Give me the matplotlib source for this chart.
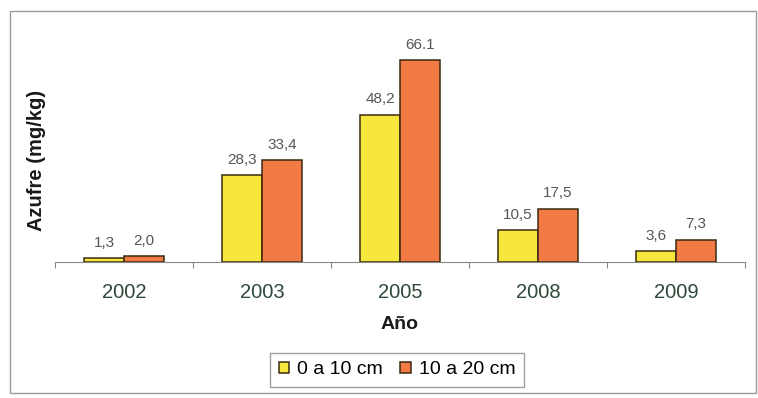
import matplotlib
matplotlib.use("Agg")
import matplotlib.pyplot as plt
from matplotlib.patches import Rectangle
import numpy as np

years = ["2002", "2003", "2005", "2008", "2009"]
s1_name = "0 a 10 cm"
s2_name = "10 a 20 cm"
s1_values = [1.3, 28.3, 48.2, 10.5, 3.6]
s2_values = [2.0, 33.4, 66.1, 17.5, 7.3]
s1_labels = ["1,3", "28,3", "48,2", "10,5", "3,6"]
s2_labels = ["2,0", "33,4", "66.1", "17,5", "7,3"]

plt.rcParams['font.family'] = ['Liberation Sans', 'DejaVu Sans']

fig = plt.figure(figsize=(7.58, 3.98), dpi=100)
fig.patches.append(Rectangle((10/758, 1-393/398), 746/758, 382/398, transform=fig.transFigure,
                             fill=False, edgecolor='#9a9a9a', linewidth=1.0))
ax = fig.add_axes([55/758, 1-262/398, 690/758, 214/398])

x = np.arange(len(years))
w = 0.29
yellow = '#F7E73C'
orange = '#F27A45'
ax.bar(x - w/2, s1_values, w, color=yellow, edgecolor='#3a2a10', linewidth=1.1, label=s1_name)
ax.bar(x + w/2, s2_values, w, color=orange, edgecolor='#3a2a10', linewidth=1.1, label=s2_name)

for xi, v, t in zip(x, s1_values, s1_labels):
    ax.annotate(t, (xi - w/2, v), xytext=(0, 6), textcoords='offset points',
                ha='center', va='bottom', fontsize=11, color='#555555')
for xi, v, t in zip(x, s2_values, s2_labels):
    ax.annotate(t, (xi + w/2, v), xytext=(0, 6), textcoords='offset points',
                ha='center', va='bottom', fontsize=11, color='#555555')

ax.set_xlim(-0.5, len(years) - 0.5)
ax.set_ylim(0, 70)
for s in ['top', 'right', 'left']:
    ax.spines[s].set_visible(False)
ax.spines['bottom'].set_color('#888888')
ax.set_yticks([])
ax.set_xticks(np.arange(-0.5, len(years)), minor=False)
ax.set_xticklabels([])
ax.tick_params(axis='x', which='major', length=4, color='#888888', direction='out')
ax.set_xticks(x, minor=True)
ax.set_xticklabels(years, minor=True)
ax.tick_params(axis='x', which='minor', length=0, pad=15, labelsize=14.5, labelcolor='#2f4a3a')

ax.set_xlabel("Año", fontsize=14, fontweight='bold', color='#1a1a1a')
ax.xaxis.set_label_coords(0.5, (262 - 325) / 214)
ax.xaxis.label.set_va('center')
ax.set_ylabel("Azufre (mg/kg)", fontsize=14.5, fontweight='bold', color='#1a1a1a')
ax.yaxis.set_label_coords((37 - 55) / 690, (262 - 160) / 214)
ax.yaxis.label.set_va('center')

leg = ax.legend(loc='center', bbox_to_anchor=(397/758, 1-370/398), bbox_transform=fig.transFigure,
                ncol=2, fontsize=14, frameon=True, fancybox=False, edgecolor='#888888',
                handlelength=0.55, handleheight=0.55, handletextpad=0.4, columnspacing=0.9,
                borderpad=0.45)
leg.get_frame().set_linewidth(1.0)

fig.savefig("out.png", dpi=100)
